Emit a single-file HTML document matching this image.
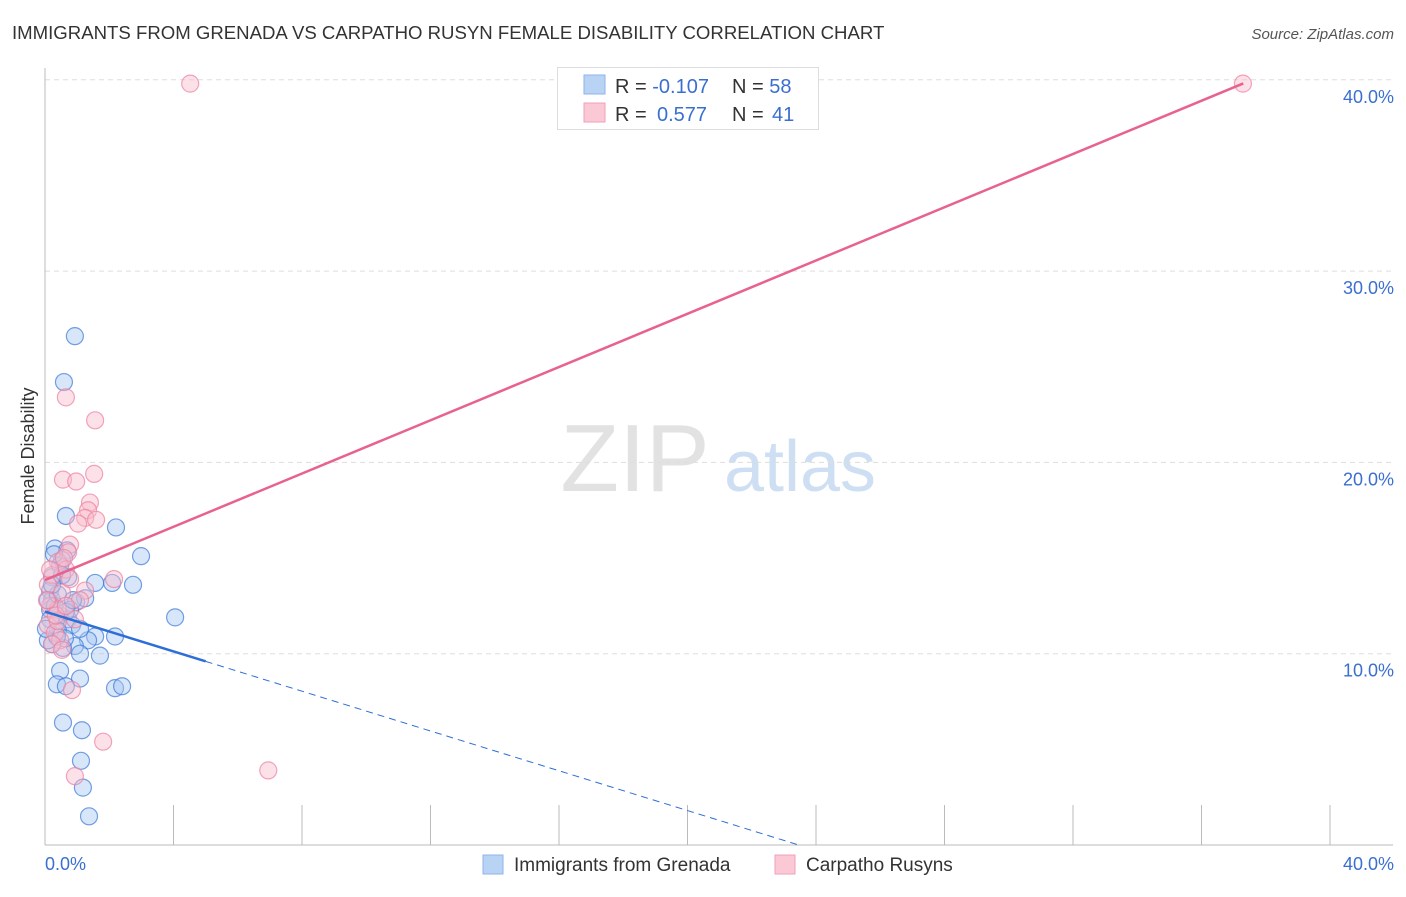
<!DOCTYPE html>
<html><head><meta charset="utf-8"><style>
body{margin:0;background:#fff;font-family:"Liberation Sans",sans-serif;}
svg text{font-family:"Liberation Sans",sans-serif;}
</style></head><body>
<svg id="chart" width="1406" height="892" viewBox="0 0 1406 892">
<text x="12" y="39" font-size="18.6" fill="#333">IMMIGRANTS FROM GRENADA VS CARPATHO RUSYN FEMALE DISABILITY CORRELATION CHART</text>
<text x="1394" y="39" font-size="15" fill="#555" font-style="italic" text-anchor="end">Source: ZipAtlas.com</text>
<text x="635" y="491" font-size="96" fill="#e2e2e2" font-family="Liberation Serif" text-anchor="middle">ZIP</text>
<text x="800" y="491" font-size="72" fill="#cfdff3" text-anchor="middle">atlas</text>
<g id="grid"></g>
<g id="axes"></g>
<g id="marks"></g>
<text x="34" y="456" font-size="18" fill="#333" text-anchor="middle" transform="rotate(-90 34 456)">Female Disability</text>
<text x="45" y="870" font-size="18" fill="#3a6fd0">0.0%</text>
<text x="1394" y="870" font-size="18" fill="#3a6fd0" text-anchor="end">40.0%</text>
<g>
<rect x="557.5" y="67.5" width="261" height="62" fill="#fff" stroke="#ddd"/>
<rect x="584" y="75" width="21" height="19" fill="#b9d3f5" stroke="#8fb3e8"/>
<rect x="584" y="103" width="21" height="19" fill="#fbc8d6" stroke="#f0a0b8"/>
<text x="615" y="93" font-size="20" fill="#333">R = <tspan fill="#3a6fd0">-0.107</tspan></text>
<text x="732" y="93" font-size="20" fill="#333">N = <tspan fill="#3a6fd0">58</tspan></text>
<text x="615" y="121" font-size="20" fill="#333">R = <tspan fill="#3a6fd0" x="657">0.577</tspan></text>
<text x="732" y="121" font-size="20" fill="#333">N = <tspan fill="#3a6fd0" x="772">41</tspan></text>
</g>
<g>
<rect x="483" y="855" width="20" height="19" fill="#b9d3f5" stroke="#8fb3e8"/>
<text x="514" y="871" font-size="19" fill="#333">Immigrants from Grenada</text>
<rect x="775" y="855" width="20" height="19" fill="#fbc8d6" stroke="#f0a0b8"/>
<text x="806" y="871" font-size="19" fill="#333">Carpatho Rusyns</text>
</g>
</svg>
<script>
const yTicks=[10,20,30,40];
const yTickLabels=["10.0%","20.0%","30.0%","40.0%"];
const xTicks=[0,4,8,12,16,20,24,28,32,36,40];
const blueX=[0.93,0.59,0.65,2.21,0.31,0.69,2.99,0.53,0.47,0.22,0.72,1.56,2.09,2.74,0.16,0.22,0.97,1.25,4.05,0.16,0.47,0.72,0.84,0.40,1.56,2.18,1.34,0.93,1.09,0.56,0.22,0.47,1.09,0.37,0.65,2.18,2.40,0.56,1.15,1.12,1.18,1.37,0.09,0.31,0.16,0.62,0.78,0.28,0.09,0.40,0.53,0.22,0.65,0.87,1.09,1.71,0.37,0.03];
const blueY=[26.6,24.2,17.2,16.6,15.5,15.4,15.1,14.9,14.6,14.0,14.0,13.7,13.7,13.6,13.3,12.8,12.7,12.9,11.9,12.3,12.0,11.8,11.5,11.2,10.9,10.9,10.7,10.4,10.0,10.3,10.5,9.1,8.7,8.4,8.3,8.2,8.3,6.4,6.0,4.4,3.0,1.5,12.8,12.5,11.8,10.8,12.3,15.2,10.7,13.1,14.1,13.6,12.2,12.8,11.3,9.9,10.9,11.3];
const pinkX=[4.52,37.29,0.65,1.56,0.56,0.97,1.53,1.40,1.34,1.25,1.03,1.59,0.78,0.72,0.40,0.65,0.22,0.09,0.53,2.15,0.16,0.40,0.93,0.09,0.31,0.47,0.22,0.53,0.84,1.81,0.93,6.95,1.25,0.40,0.78,0.59,0.16,0.06,1.09,0.34,0.65];
const pinkY=[39.8,39.8,23.4,22.2,19.1,19.0,19.4,17.9,17.5,17.1,16.8,17.0,15.7,15.3,14.8,14.4,14.1,13.6,13.2,13.9,12.5,12.3,11.8,11.5,11.1,10.7,10.5,10.2,8.1,5.4,3.6,3.9,13.3,11.7,13.9,15.0,14.4,12.8,12.8,12.0,12.5];
const blueTrend=[12.2,-0.52];
const pinkTrend=[13.85,0.696];
const NS="http://www.w3.org/2000/svg";
const xs=v=>45+v*32.125, ys=v=>845-v*19.13;
function mk(t,a,p){const e=document.createElementNS(NS,t);for(const k in a)e.setAttribute(k,a[k]);p.appendChild(e);return e;}
const grid=document.getElementById('grid'),axes=document.getElementById('axes'),marks=document.getElementById('marks');
yTicks.forEach((t,i)=>{
 const l=mk('line',{x1:45,x2:1393,y1:ys(t),y2:ys(t),stroke:'#ddd','stroke-dasharray':'5,4'},grid);
 
 
 const tx=mk('text',{x:1394,y:ys(t)+23,'font-size':18,fill:'#3a6fd0','text-anchor':'end'},grid);
 tx.textContent=yTickLabels[i];
 
 
});
let a=mk('line',{x1:45,x2:45,y1:68,y2:845,stroke:'#bbb'},axes);


a=mk('line',{x1:45,x2:1393,y1:845,y2:845,stroke:'#bbb'},axes);


xTicks.forEach(t=>{
 const l=mk('line',{x1:xs(t),x2:xs(t),y1:805,y2:845,stroke:'#bbb'},axes);
 
 
});
function pts(X,Y,fill,stroke,name){X.forEach((x,i)=>{
 const c=mk('circle',{cx:xs(x),cy:ys(Y[i]),r:8.5,fill:fill,'fill-opacity':0.45,stroke:stroke,'stroke-opacity':0.7,'stroke-width':1.2},marks);
 
 
});}
pts(blueX,blueY,'#a9c8f2','#3a78d8','point-grenada');
pts(pinkX,pinkY,'#f9bccd','#ec7fa0','point-rusyn');
let L=mk('line',{x1:xs(0),y1:ys(blueTrend[0]),x2:xs(5),y2:ys(blueTrend[0]+5*blueTrend[1]),stroke:'#2d6fd6','stroke-width':2.5},marks);


const xe=-blueTrend[0]/blueTrend[1];
L=mk('line',{x1:xs(5),y1:ys(blueTrend[0]+5*blueTrend[1]),x2:xs(xe),y2:ys(0),stroke:'#2d6fd6','stroke-width':1,'stroke-dasharray':'7,5'},marks);


L=mk('line',{x1:xs(0),y1:ys(pinkTrend[0]),x2:xs(37.3),y2:ys(pinkTrend[0]+37.3*pinkTrend[1]),stroke:'#e8628e','stroke-width':2.5},marks);


</script>
</body></html>
